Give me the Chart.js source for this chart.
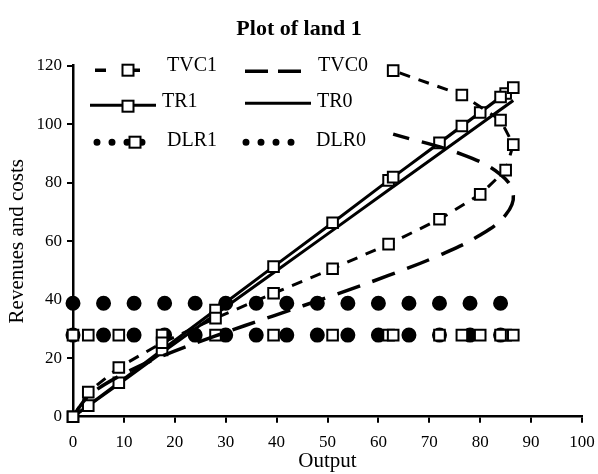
<!DOCTYPE html>
<html>
<head>
<meta charset="utf-8">
<script src="https://cdn.jsdelivr.net/npm/chart.js@4/dist/chart.umd.min.js"></script>
<style>
  html, body { margin: 0; padding: 0; background: #fff; }
</style>
</head>
<body>
<canvas id="landChart" width="598" height="474"></canvas>
<script>
// values, in the order the points are joined
const output = [0, 3, 9, 17.5, 28, 39.4, 51, 62, 72, 80, 85, 86.5, 84, 76.4, 62.9];
const tvc1 = [0, 8.4, 16.8, 25.3, 33.7, 42.2, 50.6, 59.0, 67.5, 76.0, 84.3, 93.0, 101.4, 110.0, 118.3];
const tvc0 = [0, 6.9, 13.8, 20.7, 27.6, 34.5, 41.4, 48.3, 55.2, 62.1, 69.0, 75.9, 82.8, 89.7, 96.6];
const tr1 = [0, 3.8, 11.6, 22.8, 36.5, 51.3, 66.3, 80.8, 93.6, 104.0, 110.5, 112.5, 109.3, 99.4, 81.9];
const tr0 = [0, 3.7, 11.2, 21.9, 35.0, 49.2, 63.7, 77.5, 90.0, 100.0, 106.2, 108.1, 105.0, 95.5, 78.6];
const dlr1 = [27.9, 27.9, 27.9, 27.9, 27.9, 27.9, 27.9, 27.9, 27.9, 27.9, 27.9, 27.9, 27.9, 27.9, 27.9];
const dlr0 = [38.8, 38.8, 38.8, 38.8, 38.8, 38.8, 38.8, 38.8, 38.8, 38.8, 38.8, 38.8, null, null, null];

const xTicks = {min: 0, max: 100, step: 10};
const yTicks = {min: 0, max: 120, step: 20};

const serif = "'Liberation Serif', 'Times New Roman', serif";
const lastOut = 11; // index of the largest output, the curves turn back after it

function pts(ys) {
  return output.map((x, i) => ({x: x, y: ys[i]}));
}

const square = {
  pointStyle: 'rect',
  pointRadius: 7.5,
  pointBackgroundColor: '#fff',
  pointBorderColor: '#000',
  pointBorderWidth: 2
};

// the legend sits inside the plot, 3 rows x 2 columns
const legendPlugin = {
  id: 'insideLegend',
  afterDraw(chart) {
    const ctx = chart.ctx;
    const L = chart.chartArea.left, T = chart.chartArea.top;

    function line(x1, x2, y, dash, width) {
      ctx.save();
      ctx.strokeStyle = '#000';
      ctx.lineWidth = width;
      ctx.setLineDash(dash);
      ctx.lineCap = dash.length && dash[0] === 0 ? 'round' : 'butt';
      ctx.beginPath();
      ctx.moveTo(x1, y);
      ctx.lineTo(x2, y);
      ctx.stroke();
      ctx.restore();
    }
    function box(x, y) {
      ctx.save();
      ctx.fillStyle = '#fff';
      ctx.strokeStyle = '#000';
      ctx.lineWidth = 2;
      ctx.fillRect(x - 5.5, y - 5.5, 11, 11);
      ctx.strokeRect(x - 5.5, y - 5.5, 11, 11);
      ctx.restore();
    }
    function text(s, x, y) {
      ctx.save();
      ctx.fillStyle = '#000';
      ctx.font = '20px ' + serif;
      ctx.textBaseline = 'middle';
      ctx.textAlign = 'left';
      ctx.fillText(s, x, y);
      ctx.restore();
    }

    const c1 = L + 22, c2 = L + 172;
    const r1 = T + 4.5, r2 = T + 39.5, r3 = T + 76.5;

    // TVC1
    line(c1, c1 + 67, r1, [11, 23], 3.5);
    box(c1 + 33, r1);
    text('TVC1', c1 + 72, r1 - 4);
    // TVC0
    line(c2, c2 + 66, r1 + 1, [23, 10], 3.5);
    text('TVC0', c2 + 73, r1 - 4);
    // TR1
    line(c1 - 5, c1 + 61, r2, [], 3);
    box(c1 + 33, r2 + 1);
    text('TR1', c1 + 67, r2 - 3);
    // TR0
    line(c2, c2 + 66, r2 - 2, [], 3);
    text('TR0', c2 + 72, r2 - 3);
    // DLR1
    line(c1 + 2, c1 + 62, r3, [0, 15], 7);
    box(c1 + 40, r3);
    text('DLR1', c1 + 72, r3 - 1);
    // DLR0
    line(c2 + 1, c2 + 61, r3, [0, 15], 7);
    text('DLR0', c2 + 71, r3 - 1);
  }
};

// title centred on the whole picture
const titleWide = {
  id: 'titleWide',
  afterLayout(chart) {
    if (chart.titleBlock) {
      chart.titleBlock.left = 0;
      chart.titleBlock.right = chart.width;
    }
  }
};

// the dotted DLR1 path is only drawn on the way out, so its dots stay single
const outwardOnly = {
  borderColor: c => (c.p0DataIndex >= lastOut ? 'rgba(0,0,0,0)' : undefined)
};

const ctx = document.getElementById('landChart').getContext('2d');
const landChart = new Chart(ctx, {
  type: 'line',
  data: {
    datasets: [
      Object.assign({label: 'TVC1', data: pts(tvc1), borderColor: '#000', borderWidth: 3,
        borderDash: [11, 9], tension: 0, clip: false}, square),
      {label: 'TVC0', data: pts(tvc0), borderColor: '#000', borderWidth: 3.5,
        borderDash: [24, 13], tension: 0.4, pointRadius: 0, clip: false},
      Object.assign({label: 'TR1', data: pts(tr1), borderColor: '#000', borderWidth: 3,
        tension: 0, clip: false}, square),
      {label: 'TR0', data: pts(tr0), borderColor: '#000', borderWidth: 3,
        tension: 0, pointRadius: 0, clip: false},
      Object.assign({label: 'DLR1', data: pts(dlr1), borderColor: '#000', borderWidth: 15,
        borderDash: [0, 30.54], borderCapStyle: 'round', tension: 0, clip: false,
        segment: outwardOnly}, square),
      {label: 'DLR0', data: pts(dlr0), borderColor: '#000', borderWidth: 15,
        borderDash: [0, 30.54], borderCapStyle: 'round', tension: 0, pointRadius: 0, clip: false}
    ]
  },
  options: {
    responsive: false,
    animation: false,
    devicePixelRatio: 1,
    layout: {padding: {left: 0, right: 16, top: 0, bottom: 0}},
    plugins: {
      legend: {display: false},
      tooltip: {enabled: false},
      title: {
        display: true,
        text: 'Plot of land 1',
        color: '#000',
        font: {family: serif, size: 22, weight: 'bold'},
        padding: {top: 16, bottom: 23.3}
      }
    },
    scales: {
      x: {
        type: 'linear',
        min: xTicks.min,
        max: xTicks.max,
        afterFit(s) { s.height = 57.3; s.paddingRight = 0; s.paddingLeft = 0; },
        ticks: {stepSize: xTicks.step, color: '#000', padding: 10,
          font: {family: serif, size: 17}},
        grid: {display: true, drawOnChartArea: false, drawTicks: true, tickLength: 6,
          color: '#000', lineWidth: 2},
        border: {display: true, color: '#000', width: 2.5},
        title: {display: true, text: 'Output', color: '#000',
          font: {family: serif, size: 21}, padding: {top: 0, bottom: 0}}
      },
      y: {
        min: yTicks.min,
        max: yTicks.max,
        afterFit(s) { s.width = 73; },
        ticks: {stepSize: yTicks.step, color: '#000', padding: 5,
          font: {family: serif, size: 17}},
        grid: {display: true, drawOnChartArea: false, drawTicks: true, tickLength: 6,
          color: '#000', lineWidth: 2},
        border: {display: true, color: '#000', width: 2.5},
        title: {display: true, text: 'Revenues and costs', color: '#000',
          font: {family: serif, size: 21}, padding: {top: 5, bottom: 0}}
      }
    }
  },
  plugins: [titleWide, legendPlugin]
});
</script>
</body>
</html>
